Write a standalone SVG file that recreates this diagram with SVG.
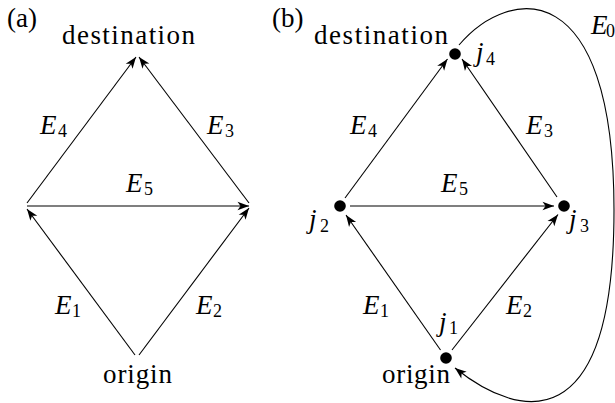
<svg xmlns="http://www.w3.org/2000/svg" width="615" height="403" viewBox="0 0 615 403" font-family="Liberation Serif, DejaVu Serif, serif">
<style>
  .w { font-size: 27px; }
  .m { font-size: 27px; font-style: italic; }
  .s { font-size: 18px; font-style: normal; }
  .e { fill: none; stroke: #000; stroke-width: 1.1; marker-end: url(#arr); }
  .dot { fill: #000; }
</style>
<defs>
  <marker id="arr" markerUnits="userSpaceOnUse" viewBox="-12 -6 13 12" markerWidth="13" markerHeight="12" refX="0" refY="0" orient="auto" overflow="visible">
    <path d="M0,0 L-11.5,-4.3 L-8.5,0 L-11.5,4.3 Z" fill="#000"/>
  </marker>
</defs>

<!-- panel labels -->
<text class="w" font-family="Liberation Serif" x="7" y="27">(a)</text>
<text class="w" font-family="Liberation Serif" x="272" y="27">(b)</text>

<!-- ===== Panel (a) ===== -->
<g id="a-destination"><text class="w" font-family="Liberation Serif" x="62" y="44" textLength="133" lengthAdjust="spacing">destination</text></g>
<g id="a-origin"><text class="w" font-family="Liberation Serif" x="103" y="383" textLength="69" lengthAdjust="spacing">origin</text></g>

<g id="a-connectors">
  <path class="e" d="M135,355 L27,209"/>
  <path class="e" d="M139,355 L249,208"/>
  <path class="e" d="M27,206 L249,206"/>
  <path class="e" d="M27,203 L136,57"/>
  <path class="e" d="M249,203 L139,57"/>
</g>
<g id="a-edge-labels" font-family="Liberation Serif">
  <text class="m" x="40" y="134">E<tspan class="s" x="58" y="137">4</tspan></text>
  <text class="m" x="207" y="134">E<tspan class="s" x="225" y="137">3</tspan></text>
  <text class="m" x="126" y="192">E<tspan class="s" x="144" y="195">5</tspan></text>
  <text class="m" x="55" y="314">E<tspan class="s" x="72" y="317">1</tspan></text>
  <text class="m" x="196" y="314">E<tspan class="s" x="213" y="317">2</tspan></text>
</g>

<!-- ===== Panel (b) ===== -->
<g id="b-connectors">
  <path class="e" d="M440.5,350 L346,215"/>
  <path class="e" d="M452,350 L558,214.5"/>
  <path class="e" d="M350,206 L554,206"/>
  <path class="e" d="M345,198 L447.5,59"/>
  <path class="e" d="M557,197 L462,59"/>
  <path class="e" d="M459,45 C510,-15 614,-25 614,210 C614,440 520,420 455,368"/>
</g>
<g id="b-edge-labels" font-family="Liberation Serif">
  <text class="m" x="350" y="134">E<tspan class="s" x="368" y="137">4</tspan></text>
  <text class="m" x="526" y="134">E<tspan class="s" x="544" y="137">3</tspan></text>
  <text class="m" x="441" y="192">E<tspan class="s" x="459" y="195">5</tspan></text>
  <text class="m" x="363" y="314">E<tspan class="s" x="380" y="317">1</tspan></text>
  <text class="m" x="506" y="314">E<tspan class="s" x="523" y="317">2</tspan></text>
  <text class="m" x="591" y="34">E<tspan class="s" x="606" y="37">0</tspan></text>
</g>

<g id="j1" font-family="Liberation Serif">
  <circle class="dot" cx="446" cy="358" r="5.8"/>
  <text class="m" x="439" y="331">j<tspan class="s" x="449" y="334">1</tspan></text>
  <text class="w" x="382" y="383" textLength="68" lengthAdjust="spacing">origin</text>
</g>
<g id="j2" font-family="Liberation Serif">
  <circle class="dot" cx="340" cy="206" r="5.8"/>
  <text class="m" x="309" y="228">j<tspan class="s" x="320" y="232">2</tspan></text>
</g>
<g id="j3" font-family="Liberation Serif">
  <circle class="dot" cx="564" cy="206" r="5.8"/>
  <text class="m" x="569" y="228">j<tspan class="s" x="580" y="232">3</tspan></text>
</g>
<g id="j4" font-family="Liberation Serif">
  <circle class="dot" cx="455" cy="54" r="5.8"/>
  <text class="m" x="476" y="61">j<tspan class="s" x="486" y="65">4</tspan></text>
  <text class="w" x="314" y="44" textLength="134" lengthAdjust="spacing">destination</text>
</g>
</svg>
